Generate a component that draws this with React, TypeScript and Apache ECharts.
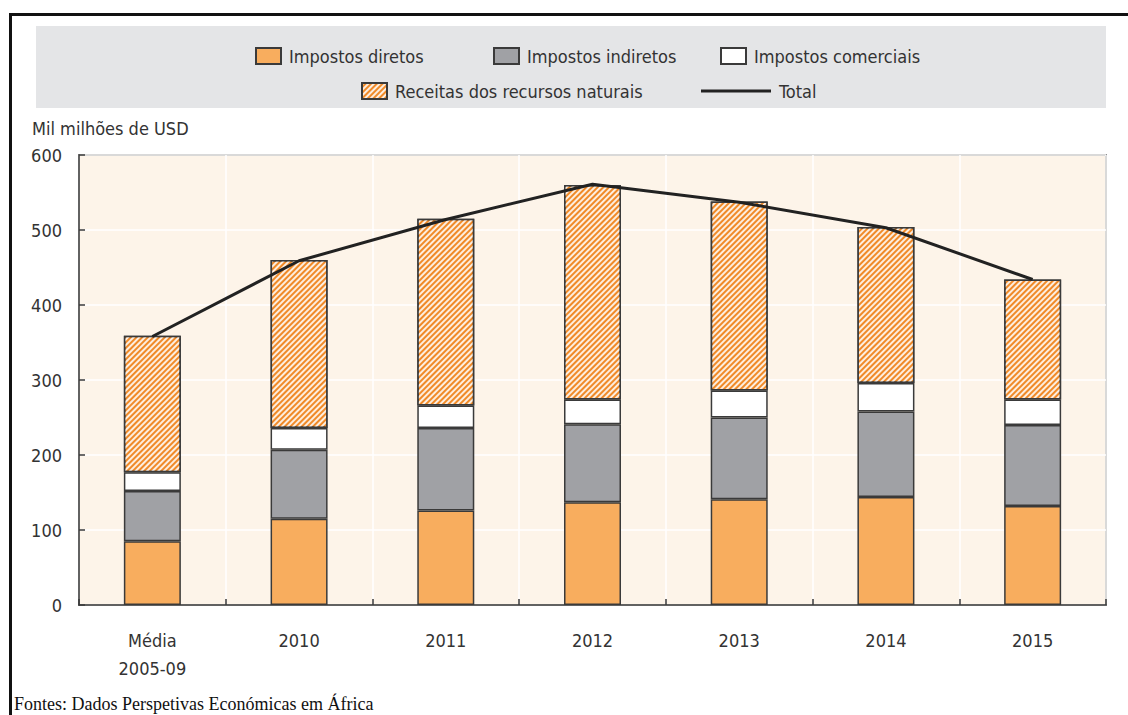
import React, { useEffect, useRef } from "react";
import * as echarts from "echarts";

const categories = ["Média\n2005-09", "2010", "2011", "2012", "2013", "2014", "2015"];
const directTaxes = [85, 115, 126, 137, 141, 144, 132];
const indirectTaxes = [67, 92, 110, 104, 109, 114, 108];
const tradeTaxes = [25, 29, 30, 33, 36, 38, 34];
const naturalResources = [182, 224, 249, 286, 252, 208, 160];
const total = [358, 459, 514, 561, 537, 503, 434];
const yTicks = { min: 0, max: 600, interval: 100 };

const FONT = "'Liberation Sans Narrow', 'DejaVu Sans Condensed', 'Liberation Sans', sans-serif";
const TEXT = "#333";
const EDGE = "#3a3a3a";

export default function App() {
  const ref = useRef<HTMLDivElement>(null);
  useEffect(() => {
    if (!ref.current) return;
    const chart = echarts.init(ref.current, null, { renderer: "svg" });
    const barStyle = (color: string) => ({ color, borderColor: EDGE, borderWidth: 1.5 });
    const legendText = { fontFamily: FONT, fontSize: 18, color: TEXT, padding: [0, 0, 0, 3] };
    const boxLegend = (name: string, left: number, top: number) => ({
      data: [{ name, icon: "rect" }],
      left,
      top,
      itemWidth: 25,
      itemHeight: 16,
      textStyle: legendText,
    });
    chart.setOption({
      animation: false,
      textStyle: { fontFamily: FONT, color: TEXT },
      grid: {
        left: 79,
        right: 22,
        top: 155,
        bottom: 110,
        show: true,
        backgroundColor: "#fdf4e9",
        borderColor: EDGE,
        borderWidth: 1.5,
      },
      legend: [
        boxLegend("Impostos diretos", 250, 42),
        boxLegend("Impostos indiretos", 488, 42),
        boxLegend("Impostos comerciais", 715, 42),
        boxLegend("Receitas dos recursos naturais", 356, 77),
        {
          data: [{ name: "Total", icon: "rect" }],
          left: 696,
          top: 77,
          itemWidth: 70,
          itemHeight: 3,
          textStyle: legendText,
        },
      ],
      graphic: [
        { type: "rect", z: -10, shape: { x: 36, y: 26, width: 1070, height: 82 }, style: { fill: "#e4e5e7" } },
        {
          type: "text",
          x: 14,
          y: 695,
          style: {
            text: "Fontes: Dados Perspetivas Económicas em África",
            font: "18px 'Liberation Serif', serif",
            fill: "#111",
          },
        },
        { type: "rect", z: 11, shape: { x: 9, y: 13, width: 1119, height: 3 }, style: { fill: "#111" } },
        { type: "rect", z: 11, shape: { x: 9, y: 13, width: 3, height: 702 }, style: { fill: "#111" } },
        {
          type: "text",
          x: 32,
          y: 119,
          style: { text: "Mil milhões de USD", font: `18px ${FONT}`, fill: TEXT },
        },
      ],
      xAxis: {
        type: "category",
        data: categories,
        boundaryGap: true,
        axisLine: { show: true, lineStyle: { color: EDGE, width: 1.5 } },
        axisTick: { show: true, inside: true, length: 6, lineStyle: { color: EDGE, width: 1.5 } },
        splitLine: { show: true, lineStyle: { color: "#ffffff", width: 1.5 } },
        axisLabel: { fontFamily: FONT, fontSize: 18, color: TEXT, margin: 21, lineHeight: 28 },
      },
      yAxis: {
        type: "value",
        min: yTicks.min,
        max: yTicks.max,
        interval: yTicks.interval,
        axisLine: { show: true, lineStyle: { color: EDGE, width: 1.5 } },
        axisTick: { show: true, inside: true, length: 6, lineStyle: { color: EDGE, width: 1.5 } },
        splitLine: { show: true, lineStyle: { color: "#ffffff", width: 1.5 } },
        axisLabel: { fontFamily: FONT, fontSize: 18, color: TEXT, margin: 17 },
      },
      series: [
        {
          name: "Impostos diretos",
          type: "bar",
          stack: "a",
          barWidth: 57,
          data: directTaxes,
          itemStyle: barStyle("#f8ad5e"),
        },
        {
          name: "Impostos indiretos",
          type: "bar",
          stack: "a",
          barWidth: 57,
          data: indirectTaxes,
          itemStyle: barStyle("#a0a1a5"),
        },
        {
          name: "Impostos comerciais",
          type: "bar",
          stack: "a",
          barWidth: 57,
          data: tradeTaxes,
          itemStyle: barStyle("#ffffff"),
        },
        {
          name: "Receitas dos recursos naturais",
          type: "bar",
          stack: "a",
          barWidth: 57,
          data: naturalResources,
          itemStyle: {
            ...barStyle("#f08a28"),
            decal: {
              symbol: "rect",
              symbolSize: 1,
              dashArrayX: [1, 0],
              dashArrayY: [1.2, 1.8],
              rotation: -Math.PI / 4,
              color: "rgba(255,255,255,0.85)",
            },
          },
        },
        {
          name: "Total",
          type: "line",
          data: total,
          symbol: "none",
          z: 5,
          lineStyle: { color: "#222", width: 3 },
          itemStyle: { color: "#222" },
        },
      ],
    });
    return () => chart.dispose();
  }, []);
  return (
    <div
      ref={ref}
      style={{ position: "fixed", left: 0, top: 0, width: 1128, height: 715, background: "#fff" }}
    />
  );
}
